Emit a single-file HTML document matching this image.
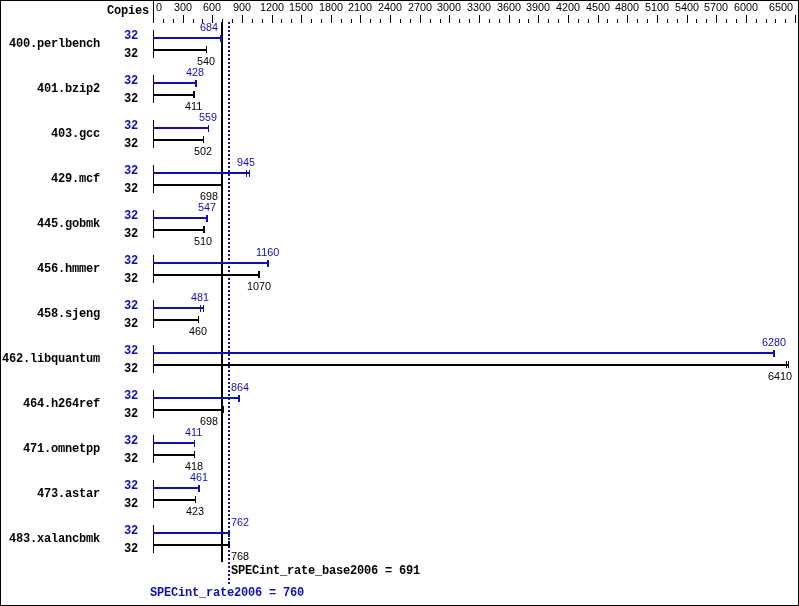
<!DOCTYPE html>
<html><head><meta charset="utf-8"><title>SPECint_rate2006</title>
<style>
html,body{margin:0;padding:0;background:#fff}
#c{position:relative;width:799px;height:606px;overflow:hidden;background:#fff;will-change:transform}
#c i{position:absolute;display:block}
#c b{position:absolute;white-space:pre;line-height:12px}
.n{font-family:"Liberation Sans",sans-serif;font-size:10.8px;font-weight:normal}
.b{font-family:"Liberation Mono",monospace;font-size:12px;font-weight:bold;letter-spacing:-0.2px}
#frame{position:absolute;left:0;top:0;width:799px;height:606px;box-sizing:border-box;border:1px solid #000}
</style></head><body>
<div id="c">
<div id="frame"></div>
<i style="left:153px;top:0px;width:1px;height:23px;background:#000"></i>
<i style="left:163px;top:19px;width:1px;height:4px;background:#000"></i>
<i style="left:173px;top:19px;width:1px;height:4px;background:#000"></i>
<i style="left:183px;top:15px;width:1px;height:8px;background:#000"></i>
<i style="left:193px;top:19px;width:1px;height:4px;background:#000"></i>
<i style="left:202px;top:19px;width:1px;height:4px;background:#000"></i>
<i style="left:212px;top:15px;width:1px;height:8px;background:#000"></i>
<i style="left:222px;top:19px;width:1px;height:4px;background:#000"></i>
<i style="left:232px;top:19px;width:1px;height:4px;background:#000"></i>
<i style="left:242px;top:15px;width:1px;height:8px;background:#000"></i>
<i style="left:252px;top:19px;width:1px;height:4px;background:#000"></i>
<i style="left:262px;top:19px;width:1px;height:4px;background:#000"></i>
<i style="left:272px;top:15px;width:1px;height:8px;background:#000"></i>
<i style="left:281px;top:19px;width:1px;height:4px;background:#000"></i>
<i style="left:291px;top:19px;width:1px;height:4px;background:#000"></i>
<i style="left:301px;top:15px;width:1px;height:8px;background:#000"></i>
<i style="left:311px;top:19px;width:1px;height:4px;background:#000"></i>
<i style="left:321px;top:19px;width:1px;height:4px;background:#000"></i>
<i style="left:331px;top:15px;width:1px;height:8px;background:#000"></i>
<i style="left:341px;top:19px;width:1px;height:4px;background:#000"></i>
<i style="left:351px;top:19px;width:1px;height:4px;background:#000"></i>
<i style="left:360px;top:15px;width:1px;height:8px;background:#000"></i>
<i style="left:370px;top:19px;width:1px;height:4px;background:#000"></i>
<i style="left:380px;top:19px;width:1px;height:4px;background:#000"></i>
<i style="left:390px;top:15px;width:1px;height:8px;background:#000"></i>
<i style="left:400px;top:19px;width:1px;height:4px;background:#000"></i>
<i style="left:410px;top:19px;width:1px;height:4px;background:#000"></i>
<i style="left:420px;top:15px;width:1px;height:8px;background:#000"></i>
<i style="left:430px;top:19px;width:1px;height:4px;background:#000"></i>
<i style="left:440px;top:19px;width:1px;height:4px;background:#000"></i>
<i style="left:449px;top:15px;width:1px;height:8px;background:#000"></i>
<i style="left:459px;top:19px;width:1px;height:4px;background:#000"></i>
<i style="left:469px;top:19px;width:1px;height:4px;background:#000"></i>
<i style="left:479px;top:15px;width:1px;height:8px;background:#000"></i>
<i style="left:489px;top:19px;width:1px;height:4px;background:#000"></i>
<i style="left:499px;top:19px;width:1px;height:4px;background:#000"></i>
<i style="left:509px;top:15px;width:1px;height:8px;background:#000"></i>
<i style="left:519px;top:19px;width:1px;height:4px;background:#000"></i>
<i style="left:528px;top:19px;width:1px;height:4px;background:#000"></i>
<i style="left:538px;top:15px;width:1px;height:8px;background:#000"></i>
<i style="left:548px;top:19px;width:1px;height:4px;background:#000"></i>
<i style="left:558px;top:19px;width:1px;height:4px;background:#000"></i>
<i style="left:568px;top:15px;width:1px;height:8px;background:#000"></i>
<i style="left:578px;top:19px;width:1px;height:4px;background:#000"></i>
<i style="left:588px;top:19px;width:1px;height:4px;background:#000"></i>
<i style="left:598px;top:15px;width:1px;height:8px;background:#000"></i>
<i style="left:607px;top:19px;width:1px;height:4px;background:#000"></i>
<i style="left:617px;top:19px;width:1px;height:4px;background:#000"></i>
<i style="left:627px;top:15px;width:1px;height:8px;background:#000"></i>
<i style="left:637px;top:19px;width:1px;height:4px;background:#000"></i>
<i style="left:647px;top:19px;width:1px;height:4px;background:#000"></i>
<i style="left:657px;top:15px;width:1px;height:8px;background:#000"></i>
<i style="left:667px;top:19px;width:1px;height:4px;background:#000"></i>
<i style="left:677px;top:19px;width:1px;height:4px;background:#000"></i>
<i style="left:687px;top:15px;width:1px;height:8px;background:#000"></i>
<i style="left:696px;top:19px;width:1px;height:4px;background:#000"></i>
<i style="left:706px;top:19px;width:1px;height:4px;background:#000"></i>
<i style="left:716px;top:15px;width:1px;height:8px;background:#000"></i>
<i style="left:726px;top:19px;width:1px;height:4px;background:#000"></i>
<i style="left:736px;top:19px;width:1px;height:4px;background:#000"></i>
<i style="left:746px;top:15px;width:1px;height:8px;background:#000"></i>
<i style="left:756px;top:19px;width:1px;height:4px;background:#000"></i>
<i style="left:766px;top:19px;width:1px;height:4px;background:#000"></i>
<i style="left:775px;top:19px;width:1px;height:4px;background:#000"></i>
<i style="left:785px;top:19px;width:1px;height:4px;background:#000"></i>
<i style="left:795px;top:15px;width:1px;height:8px;background:#000"></i>
<b class="n" style="left:156px;top:1px;color:#000">0</b>
<b class="n" style="left:174px;top:1px;color:#000">300</b>
<b class="n" style="left:203px;top:1px;color:#000">600</b>
<b class="n" style="left:233px;top:1px;color:#000">900</b>
<b class="n" style="left:260px;top:1px;color:#000">1200</b>
<b class="n" style="left:289px;top:1px;color:#000">1500</b>
<b class="n" style="left:319px;top:1px;color:#000">1800</b>
<b class="n" style="left:348px;top:1px;color:#000">2100</b>
<b class="n" style="left:378px;top:1px;color:#000">2400</b>
<b class="n" style="left:408px;top:1px;color:#000">2700</b>
<b class="n" style="left:437px;top:1px;color:#000">3000</b>
<b class="n" style="left:467px;top:1px;color:#000">3300</b>
<b class="n" style="left:497px;top:1px;color:#000">3600</b>
<b class="n" style="left:526px;top:1px;color:#000">3900</b>
<b class="n" style="left:556px;top:1px;color:#000">4200</b>
<b class="n" style="left:586px;top:1px;color:#000">4500</b>
<b class="n" style="left:615px;top:1px;color:#000">4800</b>
<b class="n" style="left:645px;top:1px;color:#000">5100</b>
<b class="n" style="left:675px;top:1px;color:#000">5400</b>
<b class="n" style="left:704px;top:1px;color:#000">5700</b>
<b class="n" style="left:734px;top:1px;color:#000">6000</b>
<b class="n" style="left:769px;top:1px;color:#000">6500</b>
<b class="b" style="right:650px;top:5px;color:#000">Copies</b>
<i style="left:221px;top:22px;width:2px;height:540px;background:#000"></i>
<i style="left:228px;top:22px;width:2px;height:2px;background:#1010b0"></i>
<i style="left:228px;top:26px;width:2px;height:2px;background:#1010b0"></i>
<i style="left:228px;top:30px;width:2px;height:2px;background:#1010b0"></i>
<i style="left:228px;top:34px;width:2px;height:2px;background:#1010b0"></i>
<i style="left:228px;top:38px;width:2px;height:2px;background:#1010b0"></i>
<i style="left:228px;top:42px;width:2px;height:2px;background:#1010b0"></i>
<i style="left:228px;top:46px;width:2px;height:2px;background:#1010b0"></i>
<i style="left:228px;top:50px;width:2px;height:2px;background:#1010b0"></i>
<i style="left:228px;top:54px;width:2px;height:2px;background:#1010b0"></i>
<i style="left:228px;top:58px;width:2px;height:2px;background:#1010b0"></i>
<i style="left:228px;top:62px;width:2px;height:2px;background:#1010b0"></i>
<i style="left:228px;top:66px;width:2px;height:2px;background:#1010b0"></i>
<i style="left:228px;top:70px;width:2px;height:2px;background:#1010b0"></i>
<i style="left:228px;top:74px;width:2px;height:2px;background:#1010b0"></i>
<i style="left:228px;top:78px;width:2px;height:2px;background:#1010b0"></i>
<i style="left:228px;top:82px;width:2px;height:2px;background:#1010b0"></i>
<i style="left:228px;top:86px;width:2px;height:2px;background:#1010b0"></i>
<i style="left:228px;top:90px;width:2px;height:2px;background:#1010b0"></i>
<i style="left:228px;top:94px;width:2px;height:2px;background:#1010b0"></i>
<i style="left:228px;top:98px;width:2px;height:2px;background:#1010b0"></i>
<i style="left:228px;top:102px;width:2px;height:2px;background:#1010b0"></i>
<i style="left:228px;top:106px;width:2px;height:2px;background:#1010b0"></i>
<i style="left:228px;top:110px;width:2px;height:2px;background:#1010b0"></i>
<i style="left:228px;top:114px;width:2px;height:2px;background:#1010b0"></i>
<i style="left:228px;top:118px;width:2px;height:2px;background:#1010b0"></i>
<i style="left:228px;top:122px;width:2px;height:2px;background:#1010b0"></i>
<i style="left:228px;top:126px;width:2px;height:2px;background:#1010b0"></i>
<i style="left:228px;top:130px;width:2px;height:2px;background:#1010b0"></i>
<i style="left:228px;top:134px;width:2px;height:2px;background:#1010b0"></i>
<i style="left:228px;top:138px;width:2px;height:2px;background:#1010b0"></i>
<i style="left:228px;top:142px;width:2px;height:2px;background:#1010b0"></i>
<i style="left:228px;top:146px;width:2px;height:2px;background:#1010b0"></i>
<i style="left:228px;top:150px;width:2px;height:2px;background:#1010b0"></i>
<i style="left:228px;top:154px;width:2px;height:2px;background:#1010b0"></i>
<i style="left:228px;top:158px;width:2px;height:2px;background:#1010b0"></i>
<i style="left:228px;top:162px;width:2px;height:2px;background:#1010b0"></i>
<i style="left:228px;top:166px;width:2px;height:2px;background:#1010b0"></i>
<i style="left:228px;top:170px;width:2px;height:2px;background:#1010b0"></i>
<i style="left:228px;top:174px;width:2px;height:2px;background:#1010b0"></i>
<i style="left:228px;top:178px;width:2px;height:2px;background:#1010b0"></i>
<i style="left:228px;top:182px;width:2px;height:2px;background:#1010b0"></i>
<i style="left:228px;top:186px;width:2px;height:2px;background:#1010b0"></i>
<i style="left:228px;top:190px;width:2px;height:2px;background:#1010b0"></i>
<i style="left:228px;top:194px;width:2px;height:2px;background:#1010b0"></i>
<i style="left:228px;top:198px;width:2px;height:2px;background:#1010b0"></i>
<i style="left:228px;top:202px;width:2px;height:2px;background:#1010b0"></i>
<i style="left:228px;top:206px;width:2px;height:2px;background:#1010b0"></i>
<i style="left:228px;top:210px;width:2px;height:2px;background:#1010b0"></i>
<i style="left:228px;top:214px;width:2px;height:2px;background:#1010b0"></i>
<i style="left:228px;top:218px;width:2px;height:2px;background:#1010b0"></i>
<i style="left:228px;top:222px;width:2px;height:2px;background:#1010b0"></i>
<i style="left:228px;top:226px;width:2px;height:2px;background:#1010b0"></i>
<i style="left:228px;top:230px;width:2px;height:2px;background:#1010b0"></i>
<i style="left:228px;top:234px;width:2px;height:2px;background:#1010b0"></i>
<i style="left:228px;top:238px;width:2px;height:2px;background:#1010b0"></i>
<i style="left:228px;top:242px;width:2px;height:2px;background:#1010b0"></i>
<i style="left:228px;top:246px;width:2px;height:2px;background:#1010b0"></i>
<i style="left:228px;top:250px;width:2px;height:2px;background:#1010b0"></i>
<i style="left:228px;top:254px;width:2px;height:2px;background:#1010b0"></i>
<i style="left:228px;top:258px;width:2px;height:2px;background:#1010b0"></i>
<i style="left:228px;top:262px;width:2px;height:2px;background:#1010b0"></i>
<i style="left:228px;top:266px;width:2px;height:2px;background:#1010b0"></i>
<i style="left:228px;top:270px;width:2px;height:2px;background:#1010b0"></i>
<i style="left:228px;top:274px;width:2px;height:2px;background:#1010b0"></i>
<i style="left:228px;top:278px;width:2px;height:2px;background:#1010b0"></i>
<i style="left:228px;top:282px;width:2px;height:2px;background:#1010b0"></i>
<i style="left:228px;top:286px;width:2px;height:2px;background:#1010b0"></i>
<i style="left:228px;top:290px;width:2px;height:2px;background:#1010b0"></i>
<i style="left:228px;top:294px;width:2px;height:2px;background:#1010b0"></i>
<i style="left:228px;top:298px;width:2px;height:2px;background:#1010b0"></i>
<i style="left:228px;top:302px;width:2px;height:2px;background:#1010b0"></i>
<i style="left:228px;top:306px;width:2px;height:2px;background:#1010b0"></i>
<i style="left:228px;top:310px;width:2px;height:2px;background:#1010b0"></i>
<i style="left:228px;top:314px;width:2px;height:2px;background:#1010b0"></i>
<i style="left:228px;top:318px;width:2px;height:2px;background:#1010b0"></i>
<i style="left:228px;top:322px;width:2px;height:2px;background:#1010b0"></i>
<i style="left:228px;top:326px;width:2px;height:2px;background:#1010b0"></i>
<i style="left:228px;top:330px;width:2px;height:2px;background:#1010b0"></i>
<i style="left:228px;top:334px;width:2px;height:2px;background:#1010b0"></i>
<i style="left:228px;top:338px;width:2px;height:2px;background:#1010b0"></i>
<i style="left:228px;top:342px;width:2px;height:2px;background:#1010b0"></i>
<i style="left:228px;top:346px;width:2px;height:2px;background:#1010b0"></i>
<i style="left:228px;top:350px;width:2px;height:2px;background:#1010b0"></i>
<i style="left:228px;top:354px;width:2px;height:2px;background:#1010b0"></i>
<i style="left:228px;top:358px;width:2px;height:2px;background:#1010b0"></i>
<i style="left:228px;top:362px;width:2px;height:2px;background:#1010b0"></i>
<i style="left:228px;top:366px;width:2px;height:2px;background:#1010b0"></i>
<i style="left:228px;top:370px;width:2px;height:2px;background:#1010b0"></i>
<i style="left:228px;top:374px;width:2px;height:2px;background:#1010b0"></i>
<i style="left:228px;top:378px;width:2px;height:2px;background:#1010b0"></i>
<i style="left:228px;top:382px;width:2px;height:2px;background:#1010b0"></i>
<i style="left:228px;top:386px;width:2px;height:2px;background:#1010b0"></i>
<i style="left:228px;top:390px;width:2px;height:2px;background:#1010b0"></i>
<i style="left:228px;top:394px;width:2px;height:2px;background:#1010b0"></i>
<i style="left:228px;top:398px;width:2px;height:2px;background:#1010b0"></i>
<i style="left:228px;top:402px;width:2px;height:2px;background:#1010b0"></i>
<i style="left:228px;top:406px;width:2px;height:2px;background:#1010b0"></i>
<i style="left:228px;top:410px;width:2px;height:2px;background:#1010b0"></i>
<i style="left:228px;top:414px;width:2px;height:2px;background:#1010b0"></i>
<i style="left:228px;top:418px;width:2px;height:2px;background:#1010b0"></i>
<i style="left:228px;top:422px;width:2px;height:2px;background:#1010b0"></i>
<i style="left:228px;top:426px;width:2px;height:2px;background:#1010b0"></i>
<i style="left:228px;top:430px;width:2px;height:2px;background:#1010b0"></i>
<i style="left:228px;top:434px;width:2px;height:2px;background:#1010b0"></i>
<i style="left:228px;top:438px;width:2px;height:2px;background:#1010b0"></i>
<i style="left:228px;top:442px;width:2px;height:2px;background:#1010b0"></i>
<i style="left:228px;top:446px;width:2px;height:2px;background:#1010b0"></i>
<i style="left:228px;top:450px;width:2px;height:2px;background:#1010b0"></i>
<i style="left:228px;top:454px;width:2px;height:2px;background:#1010b0"></i>
<i style="left:228px;top:458px;width:2px;height:2px;background:#1010b0"></i>
<i style="left:228px;top:462px;width:2px;height:2px;background:#1010b0"></i>
<i style="left:228px;top:466px;width:2px;height:2px;background:#1010b0"></i>
<i style="left:228px;top:470px;width:2px;height:2px;background:#1010b0"></i>
<i style="left:228px;top:474px;width:2px;height:2px;background:#1010b0"></i>
<i style="left:228px;top:478px;width:2px;height:2px;background:#1010b0"></i>
<i style="left:228px;top:482px;width:2px;height:2px;background:#1010b0"></i>
<i style="left:228px;top:486px;width:2px;height:2px;background:#1010b0"></i>
<i style="left:228px;top:490px;width:2px;height:2px;background:#1010b0"></i>
<i style="left:228px;top:494px;width:2px;height:2px;background:#1010b0"></i>
<i style="left:228px;top:498px;width:2px;height:2px;background:#1010b0"></i>
<i style="left:228px;top:502px;width:2px;height:2px;background:#1010b0"></i>
<i style="left:228px;top:506px;width:2px;height:2px;background:#1010b0"></i>
<i style="left:228px;top:510px;width:2px;height:2px;background:#1010b0"></i>
<i style="left:228px;top:514px;width:2px;height:2px;background:#1010b0"></i>
<i style="left:228px;top:518px;width:2px;height:2px;background:#1010b0"></i>
<i style="left:228px;top:522px;width:2px;height:2px;background:#1010b0"></i>
<i style="left:228px;top:526px;width:2px;height:2px;background:#1010b0"></i>
<i style="left:228px;top:530px;width:2px;height:2px;background:#1010b0"></i>
<i style="left:228px;top:534px;width:2px;height:2px;background:#1010b0"></i>
<i style="left:228px;top:538px;width:2px;height:2px;background:#1010b0"></i>
<i style="left:228px;top:542px;width:2px;height:2px;background:#1010b0"></i>
<i style="left:228px;top:546px;width:2px;height:2px;background:#1010b0"></i>
<i style="left:228px;top:550px;width:2px;height:2px;background:#1010b0"></i>
<i style="left:228px;top:554px;width:2px;height:2px;background:#1010b0"></i>
<i style="left:228px;top:558px;width:2px;height:2px;background:#1010b0"></i>
<i style="left:228px;top:562px;width:2px;height:2px;background:#1010b0"></i>
<i style="left:228px;top:566px;width:2px;height:2px;background:#1010b0"></i>
<i style="left:228px;top:570px;width:2px;height:2px;background:#1010b0"></i>
<i style="left:228px;top:574px;width:2px;height:2px;background:#1010b0"></i>
<i style="left:228px;top:578px;width:2px;height:2px;background:#1010b0"></i>
<i style="left:228px;top:582px;width:2px;height:2px;background:#1010b0"></i>
<i style="left:153px;top:30px;width:1px;height:28px;background:#000"></i>
<b class="b" style="right:699px;top:38px;color:#000">400.perlbench</b>
<b class="b" style="right:661px;top:30px;color:#1010b0">32</b>
<b class="b" style="right:661px;top:48px;color:#000">32</b>
<i style="left:153px;top:37px;width:69px;height:2px;background:#1010b0"></i>
<i style="left:220px;top:35px;width:2px;height:7px;background:#1010b0"></i>
<b class="n" style="left:200px;top:21px;color:#1010b0">684</b>
<i style="left:153px;top:49px;width:54px;height:2px;background:#000"></i>
<i style="left:206px;top:46px;width:1px;height:7px;background:#000"></i>
<b class="n" style="left:197px;top:55px;color:#000">540</b>
<i style="left:153px;top:75px;width:1px;height:28px;background:#000"></i>
<b class="b" style="right:699px;top:83px;color:#000">401.bzip2</b>
<b class="b" style="right:661px;top:75px;color:#1010b0">32</b>
<b class="b" style="right:661px;top:93px;color:#000">32</b>
<i style="left:153px;top:82px;width:44px;height:2px;background:#1010b0"></i>
<i style="left:195px;top:80px;width:2px;height:7px;background:#1010b0"></i>
<b class="n" style="left:186px;top:66px;color:#1010b0">428</b>
<i style="left:153px;top:94px;width:42px;height:2px;background:#000"></i>
<i style="left:193px;top:91px;width:2px;height:7px;background:#000"></i>
<b class="n" style="left:185px;top:100px;color:#000">411</b>
<i style="left:153px;top:120px;width:1px;height:28px;background:#000"></i>
<b class="b" style="right:699px;top:128px;color:#000">403.gcc</b>
<b class="b" style="right:661px;top:120px;color:#1010b0">32</b>
<b class="b" style="right:661px;top:138px;color:#000">32</b>
<i style="left:153px;top:127px;width:56px;height:2px;background:#1010b0"></i>
<i style="left:208px;top:125px;width:1px;height:7px;background:#1010b0"></i>
<b class="n" style="left:199px;top:111px;color:#1010b0">559</b>
<i style="left:153px;top:139px;width:51px;height:2px;background:#000"></i>
<i style="left:203px;top:136px;width:1px;height:7px;background:#000"></i>
<b class="n" style="left:194px;top:145px;color:#000">502</b>
<i style="left:153px;top:165px;width:1px;height:28px;background:#000"></i>
<b class="b" style="right:699px;top:173px;color:#000">429.mcf</b>
<b class="b" style="right:661px;top:165px;color:#1010b0">32</b>
<b class="b" style="right:661px;top:183px;color:#000">32</b>
<i style="left:153px;top:172px;width:97px;height:2px;background:#1010b0"></i>
<i style="left:246px;top:170px;width:1px;height:7px;background:#1010b0"></i>
<i style="left:249px;top:170px;width:1px;height:7px;background:#1010b0"></i>
<b class="n" style="left:237px;top:156px;color:#1010b0">945</b>
<i style="left:153px;top:184px;width:70px;height:2px;background:#000"></i>
<i style="left:222px;top:181px;width:1px;height:7px;background:#000"></i>
<b class="n" style="left:200px;top:190px;color:#000">698</b>
<i style="left:153px;top:210px;width:1px;height:28px;background:#000"></i>
<b class="b" style="right:699px;top:218px;color:#000">445.gobmk</b>
<b class="b" style="right:661px;top:210px;color:#1010b0">32</b>
<b class="b" style="right:661px;top:228px;color:#000">32</b>
<i style="left:153px;top:217px;width:55px;height:2px;background:#1010b0"></i>
<i style="left:206px;top:215px;width:2px;height:7px;background:#1010b0"></i>
<b class="n" style="left:198px;top:201px;color:#1010b0">547</b>
<i style="left:153px;top:229px;width:52px;height:2px;background:#000"></i>
<i style="left:203px;top:226px;width:2px;height:7px;background:#000"></i>
<b class="n" style="left:194px;top:235px;color:#000">510</b>
<i style="left:153px;top:255px;width:1px;height:28px;background:#000"></i>
<b class="b" style="right:699px;top:263px;color:#000">456.hmmer</b>
<b class="b" style="right:661px;top:255px;color:#1010b0">32</b>
<b class="b" style="right:661px;top:273px;color:#000">32</b>
<i style="left:153px;top:262px;width:116px;height:2px;background:#1010b0"></i>
<i style="left:267px;top:260px;width:2px;height:7px;background:#1010b0"></i>
<b class="n" style="left:256px;top:246px;color:#1010b0">1160</b>
<i style="left:153px;top:274px;width:107px;height:2px;background:#000"></i>
<i style="left:258px;top:271px;width:2px;height:7px;background:#000"></i>
<b class="n" style="left:247px;top:280px;color:#000">1070</b>
<i style="left:153px;top:300px;width:1px;height:28px;background:#000"></i>
<b class="b" style="right:699px;top:308px;color:#000">458.sjeng</b>
<b class="b" style="right:661px;top:300px;color:#1010b0">32</b>
<b class="b" style="right:661px;top:318px;color:#000">32</b>
<i style="left:153px;top:307px;width:51px;height:2px;background:#1010b0"></i>
<i style="left:200px;top:305px;width:1px;height:7px;background:#1010b0"></i>
<i style="left:203px;top:305px;width:1px;height:7px;background:#1010b0"></i>
<b class="n" style="left:191px;top:291px;color:#1010b0">481</b>
<i style="left:153px;top:319px;width:46px;height:2px;background:#000"></i>
<i style="left:198px;top:316px;width:1px;height:7px;background:#000"></i>
<b class="n" style="left:189px;top:325px;color:#000">460</b>
<i style="left:153px;top:345px;width:1px;height:28px;background:#000"></i>
<b class="b" style="right:699px;top:353px;color:#000">462.libquantum</b>
<b class="b" style="right:661px;top:345px;color:#1010b0">32</b>
<b class="b" style="right:661px;top:363px;color:#000">32</b>
<i style="left:153px;top:352px;width:622px;height:2px;background:#1010b0"></i>
<i style="left:773px;top:350px;width:2px;height:7px;background:#1010b0"></i>
<b class="n" style="left:762px;top:336px;color:#1010b0">6280</b>
<i style="left:153px;top:364px;width:636px;height:2px;background:#000"></i>
<i style="left:786px;top:361px;width:1px;height:7px;background:#000"></i>
<i style="left:788px;top:361px;width:1px;height:7px;background:#000"></i>
<b class="n" style="left:768px;top:370px;color:#000">6410</b>
<i style="left:153px;top:390px;width:1px;height:28px;background:#000"></i>
<b class="b" style="right:699px;top:398px;color:#000">464.h264ref</b>
<b class="b" style="right:661px;top:390px;color:#1010b0">32</b>
<b class="b" style="right:661px;top:408px;color:#000">32</b>
<i style="left:153px;top:397px;width:87px;height:2px;background:#1010b0"></i>
<i style="left:238px;top:395px;width:2px;height:7px;background:#1010b0"></i>
<b class="n" style="left:231px;top:381px;color:#1010b0">864</b>
<i style="left:153px;top:409px;width:71px;height:2px;background:#000"></i>
<i style="left:223px;top:406px;width:1px;height:7px;background:#000"></i>
<b class="n" style="left:200px;top:415px;color:#000">698</b>
<i style="left:153px;top:435px;width:1px;height:28px;background:#000"></i>
<b class="b" style="right:699px;top:443px;color:#000">471.omnetpp</b>
<b class="b" style="right:661px;top:435px;color:#1010b0">32</b>
<b class="b" style="right:661px;top:453px;color:#000">32</b>
<i style="left:153px;top:442px;width:42px;height:2px;background:#1010b0"></i>
<i style="left:194px;top:440px;width:1px;height:7px;background:#1010b0"></i>
<b class="n" style="left:185px;top:426px;color:#1010b0">411</b>
<i style="left:153px;top:454px;width:42px;height:2px;background:#000"></i>
<i style="left:194px;top:451px;width:1px;height:7px;background:#000"></i>
<b class="n" style="left:185px;top:460px;color:#000">418</b>
<i style="left:153px;top:480px;width:1px;height:28px;background:#000"></i>
<b class="b" style="right:699px;top:488px;color:#000">473.astar</b>
<b class="b" style="right:661px;top:480px;color:#1010b0">32</b>
<b class="b" style="right:661px;top:498px;color:#000">32</b>
<i style="left:153px;top:487px;width:47px;height:2px;background:#1010b0"></i>
<i style="left:198px;top:485px;width:2px;height:7px;background:#1010b0"></i>
<b class="n" style="left:190px;top:471px;color:#1010b0">461</b>
<i style="left:153px;top:499px;width:43px;height:2px;background:#000"></i>
<i style="left:195px;top:496px;width:1px;height:7px;background:#000"></i>
<b class="n" style="left:186px;top:505px;color:#000">423</b>
<i style="left:153px;top:525px;width:1px;height:28px;background:#000"></i>
<b class="b" style="right:699px;top:533px;color:#000">483.xalancbmk</b>
<b class="b" style="right:661px;top:525px;color:#1010b0">32</b>
<b class="b" style="right:661px;top:543px;color:#000">32</b>
<i style="left:153px;top:532px;width:77px;height:2px;background:#1010b0"></i>
<i style="left:228px;top:530px;width:2px;height:7px;background:#1010b0"></i>
<b class="n" style="left:231px;top:516px;color:#1010b0">762</b>
<i style="left:153px;top:544px;width:77px;height:2px;background:#000"></i>
<i style="left:228px;top:541px;width:2px;height:7px;background:#000"></i>
<b class="n" style="left:231px;top:550px;color:#000">768</b>
<b class="b" style="left:231px;top:565px;color:#000">SPECint_rate_base2006 = 691</b>
<b class="b" style="left:150px;top:587px;color:#1010b0">SPECint_rate2006 = 760</b>
</div>
</body></html>
